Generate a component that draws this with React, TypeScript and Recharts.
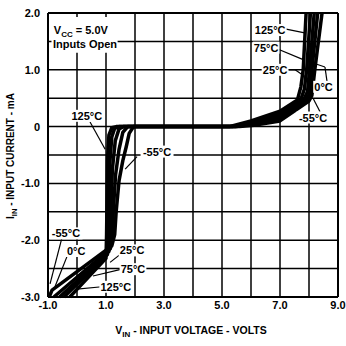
import { LineChart, Line, XAxis, YAxis, CartesianGrid, ReferenceLine, ReferenceDot, ReferenceArea, Label } from "recharts";

// V (volts) vs I (mA)
const curveM55 = [
  { v: -0.96, i: -3.0 }, { v: -0.86, i: -2.88 }, { v: 1.2, i: -2.1 }, { v: 1.3, i: -1.9 },
  { v: 1.35, i: -1.5 }, { v: 1.45, i: -0.95 }, { v: 1.58, i: -0.6 }, { v: 1.7, i: -0.35 },
  { v: 1.8, i: -0.12 }, { v: 1.95, i: 0 }, { v: 5.6, i: 0 }, { v: 6.2, i: 0.03 },
  { v: 7.0, i: 0.1 }, { v: 8.0, i: 0.45 }, { v: 8.1, i: 0.55 }, { v: 8.2, i: 1.0 }, { v: 8.45, i: 2.0 },
];
const curve0 = [
  { v: -0.8, i: -3.0 }, { v: 1.15, i: -2.15 }, { v: 1.23, i: -1.9 }, { v: 1.25, i: -1.5 },
  { v: 1.33, i: -0.85 }, { v: 1.45, i: -0.4 }, { v: 1.58, i: -0.1 }, { v: 1.75, i: 0 },
  { v: 5.5, i: 0 }, { v: 6.0, i: 0.04 }, { v: 7.0, i: 0.15 }, { v: 7.9, i: 0.45 },
  { v: 8.02, i: 0.58 }, { v: 8.1, i: 1.0 }, { v: 8.3, i: 2.0 },
];
const curve25 = [
  { v: -0.6, i: -3.0 }, { v: 1.1, i: -2.2 }, { v: 1.16, i: -1.9 }, { v: 1.17, i: -1.5 },
  { v: 1.22, i: -0.75 }, { v: 1.32, i: -0.25 }, { v: 1.45, i: -0.04 }, { v: 1.6, i: 0 },
  { v: 5.45, i: 0 }, { v: 6.0, i: 0.06 }, { v: 7.0, i: 0.2 }, { v: 7.8, i: 0.45 },
  { v: 7.95, i: 0.62 }, { v: 8.02, i: 1.0 }, { v: 8.18, i: 2.0 },
];
const curve75 = [
  { v: -0.45, i: -3.0 }, { v: 1.05, i: -2.25 }, { v: 1.09, i: -1.9 }, { v: 1.1, i: -1.5 },
  { v: 1.13, i: -0.65 }, { v: 1.2, i: -0.18 }, { v: 1.3, i: -0.03 }, { v: 1.45, i: 0 },
  { v: 5.35, i: 0 }, { v: 6.0, i: 0.08 }, { v: 7.0, i: 0.23 }, { v: 7.7, i: 0.45 },
  { v: 7.84, i: 0.66 }, { v: 7.92, i: 1.0 }, { v: 8.05, i: 2.0 },
];
const curve125 = [
  { v: -0.25, i: -3.0 }, { v: 1.0, i: -2.32 }, { v: 1.02, i: -1.9 }, { v: 1.03, i: -1.5 },
  { v: 1.05, i: -0.6 }, { v: 1.1, i: -0.15 }, { v: 1.2, i: -0.02 }, { v: 1.35, i: 0 },
  { v: 5.25, i: 0 }, { v: 6.0, i: 0.1 }, { v: 7.0, i: 0.27 }, { v: 7.6, i: 0.47 },
  { v: 7.72, i: 0.7 }, { v: 7.8, i: 1.0 }, { v: 7.9, i: 2.0 },
];

const CURVES = [curveM55, curve0, curve25, curve75, curve125];

const X_TICKS = [-1, 0, 1, 2, 3, 4, 5, 6, 7, 8, 9];
const Y_TICKS = [-3, -2.5, -2, -1.5, -1, -0.5, 0, 0.5, 1, 1.5, 2];

// temperature callouts: text spot and leader line (data coords)
const CALLOUTS = [
  { text: "125°C", at: [0.34, 0.19], line: [[0.45, 0.08], [0.97, -0.4]] },
  { text: "-55°C", at: [2.76, -0.44], line: [[2.07, -0.53], [1.66, -0.75]] },
  { text: "125°C", at: [6.66, 1.7], line: [[7.17, 1.72], [7.85, 1.65]] },
  { text: "75°C", at: [6.52, 1.39], line: [[6.9, 1.37], [7.8, 1.18]] },
  { text: "25°C", at: [6.83, 1.0], line: [[7.3, 1.0], [7.52, 1.0], [7.86, 0.88]] },
  { text: "0°C", at: [8.5, 0.7], line: [[8.62, 0.8], [8.55, 1.05], [8.14, 1.12]] },
  { text: "-55°C", at: [8.14, 0.16], line: [[8.38, 0.26], [8.14, 0.5]] },
  { text: "-55°C", at: [-0.38, -1.88], line: [[-0.52, -1.96], [-0.93, -2.77]] },
  { text: "0°C", at: [-0.03, -2.19], line: [[-0.34, -2.28], [-0.76, -2.82]] },
  { text: "25°C", at: [1.9, -2.18], line: [[1.59, -2.21], [1.14, -2.39]] },
  { text: "75°C", at: [1.93, -2.51], line: [[1.55, -2.51], [0.55, -2.63]] },
  { text: "125°C", at: [1.34, -2.82], line: [[0.86, -2.82], [0.0, -2.86]] },
];

const FONT = "'Liberation Sans', Arial, sans-serif";

function TagShape(props: any) {
  const { cx, cy, text } = props;
  const w = text.length * 6.2 + 2;
  return (
    <g>
      <rect x={cx - w / 2} y={cy - 6} width={w} height={12} fill="#fff" />
      <text x={cx} y={cy + 4} textAnchor="middle" fontFamily={FONT} fontWeight="bold" fontSize={11} fill="#000">
        {text}
      </text>
    </g>
  );
}

const fmtX = (v: number) => (Math.abs(v) % 2 === 1 ? v.toFixed(1) : "");
const fmtY = (v: number) => (Number.isInteger(v) ? (v === 0 ? "0" : v.toFixed(1)) : "");

export default function App() {
  return (
    <div style={{ position: "absolute", left: 0, top: 0, width: 346, height: 346, background: "#fff" }}>
      <LineChart width={346} height={346} margin={{ top: 13, right: 8, bottom: 19, left: 0 }}>
        <CartesianGrid stroke="#000" strokeWidth={1.5} />
        <XAxis
          type="number"
          dataKey="v"
          domain={[-1, 9]}
          ticks={X_TICKS}
          tickFormatter={fmtX}
          interval={0}
          height={30}
          tickLine={false}
          tickSize={2}
          axisLine={{ stroke: "#000", strokeWidth: 2 }}
          tick={{ fill: "#000", fontSize: 11, fontWeight: "bold", fontFamily: FONT }}
        >
          <Label
            content={() => (
              <text x={191} y={334} textAnchor="middle" fontFamily={FONT} fontWeight="bold" fontSize={10.5} fill="#000">
                V<tspan dy={3} fontSize={8}>IN</tspan>
                <tspan dy={-3}> - INPUT VOLTAGE - VOLTS</tspan>
              </text>
            )}
          />
        </XAxis>
        <YAxis
          type="number"
          domain={[-3, 2]}
          ticks={Y_TICKS}
          tickFormatter={fmtY}
          interval={0}
          width={48}
          tickLine={false}
          axisLine={{ stroke: "#000", strokeWidth: 2 }}
          tick={{ fill: "#000", fontSize: 11, fontWeight: "bold", fontFamily: FONT }}
        >
          <Label
            content={() => (
              <text
                x={14}
                y={156}
                transform="rotate(-90, 14, 156)"
                textAnchor="middle"
                fontFamily={FONT}
                fontWeight="bold"
                fontSize={10}
                fill="#000"
              >
                I<tspan dy={3} fontSize={7.5}>IN</tspan>
                <tspan dy={-3}> - INPUT CURRENT - mA</tspan>
              </text>
            )}
          />
        </YAxis>
        <ReferenceLine x={9} stroke="#000" strokeWidth={2} />
        <ReferenceLine y={2} stroke="#000" strokeWidth={2} />
        <ReferenceArea x1={-0.88} x2={1.4} y1={1.3} y2={1.93} fill="#fff" fillOpacity={1} stroke="none" />
        <ReferenceDot
          x={-0.8}
          y={1.7}
          r={0}
          shape={(p: any) => (
            <text x={p.cx} y={p.cy + 4} fontFamily={FONT} fontWeight="bold" fontSize={11} fill="#000">
              V<tspan dy={3} fontSize={8}>CC</tspan>
              <tspan dy={-3}> = 5.0V</tspan>
            </text>
          )}
        />
        <ReferenceDot
          x={-0.83}
          y={1.45}
          r={0}
          shape={(p: any) => (
            <text x={p.cx} y={p.cy + 4} fontFamily={FONT} fontWeight="bold" fontSize={11} fill="#000">
              Inputs Open
            </text>
          )}
        />
        {CURVES.map((d, k) => (
          <Line
            key={k}
            data={d}
            dataKey="i"
            type="linear"
            stroke="#000"
            strokeWidth={3.5}
            strokeLinejoin="round"
            dot={false}
            isAnimationActive={false}
          />
        ))}
        {CALLOUTS.map((c, k) =>
          c.line.slice(1).map((pt, j) => (
            <ReferenceLine
              key={`l${k}-${j}`}
              segment={[
                { x: c.line[j][0], y: c.line[j][1] },
                { x: pt[0], y: pt[1] },
              ]}
              stroke="#000"
              strokeWidth={1.2}
            />
          ))
        )}
        {CALLOUTS.map((c, k) => (
          <ReferenceDot
            key={`t${k}`}
            x={c.at[0]}
            y={c.at[1]}
            r={0}
            shape={(p: any) => <TagShape {...p} text={c.text} />}
          />
        ))}
      </LineChart>
    </div>
  );
}
